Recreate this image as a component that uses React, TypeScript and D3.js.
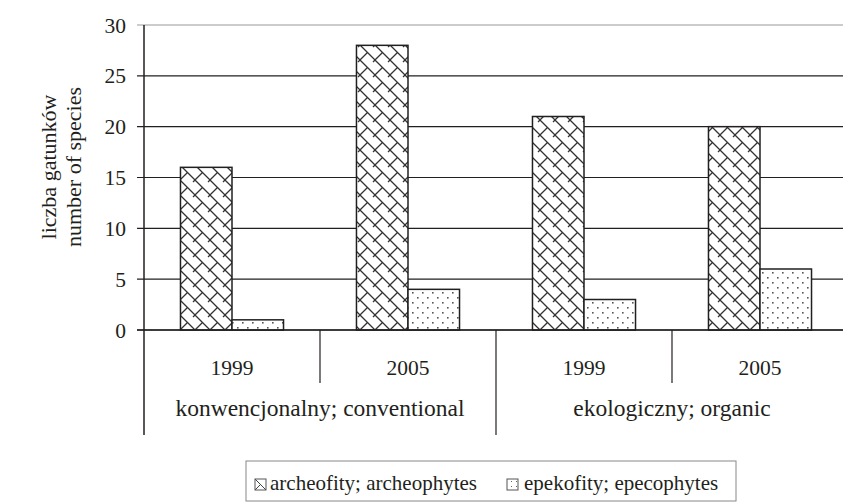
import React from "react";
import * as d3 from "d3";

const years = ["1999", "2005", "1999", "2005"];
const systems = ["konwencjonalny; conventional", "ekologiczny; organic"];
const seriesNames = ["archeofity; archeophytes", "epekofity; epecophytes"];
const archeofity = [16, 28, 21, 20];
const epekofity = [1, 4, 3, 6];
const yTicks = [0, 5, 10, 15, 20, 25, 30];

const W = 843;
const H = 502;
const FONT = "Liberation Serif, Times New Roman, serif";
const INK = "#231f20";

export default function App() {
  const left = 144;
  const groupW = 176;
  const x0 = d3
    .scaleBand<number>()
    .domain(d3.range(years.length))
    .range([left, left + groupW * years.length])
    .padding(0);
  const x1 = d3
    .scaleBand<number>()
    .domain([0, 1])
    .range([0, x0.bandwidth()])
    .paddingInner(0)
    .paddingOuter(0.708);
  const y = d3.scaleLinear().domain([0, 30]).range([330, 25]);
  const series = [archeofity, epekofity];
  const fills = ["url(#brick)", "url(#dots)"];
  const zeroY = y(0);

  return (
    <svg
      width={W}
      height={H}
      style={{ position: "absolute", left: 0, top: 0, background: "#fff" }}
    >
      <defs>
        <pattern id="brick" width="15" height="15" patternUnits="userSpaceOnUse">
          <rect width="15" height="15" fill="#fff" />
          <path
            d="M-2,-2 L17,17 M7.5,7.5 L-2,17 M17,-2 L13,2"
            stroke="#333"
            strokeWidth="1.3"
            fill="none"
          />
        </pattern>
        <pattern id="dots" width="10" height="10" patternUnits="userSpaceOnUse">
          <rect width="10" height="10" fill="#fff" />
          <rect x="2" y="2" width="1.6" height="1.6" fill="#555" />
          <rect x="7" y="7" width="1.6" height="1.6" fill="#555" />
        </pattern>
        <pattern id="brickL" width="11" height="11" patternUnits="userSpaceOnUse" x="255" y="479">
          <rect width="11" height="11" fill="#fff" />
          <path d="M0,0 L11,11 M5.5,5.5 L0,11" stroke="#444" strokeWidth="1" fill="none" />
        </pattern>
        <pattern id="dotsL" width="5" height="5" patternUnits="userSpaceOnUse">
          <rect width="5" height="5" fill="#fff" />
          <rect x="1" y="1" width="1" height="1" fill="#666" />
        </pattern>
      </defs>

      {yTicks.map((t) => (
        <line
          key={"g" + t}
          x1={left - 7}
          x2={W}
          y1={y(t)}
          y2={y(t)}
          stroke={t === 30 ? "#999" : INK}
          strokeWidth={1.2}
        />
      ))}

      {series.map((vals, si) =>
        vals.map((v, gi) => (
          <rect
            key={`b${si}-${gi}`}
            x={(x0(gi) as number) + (x1(si) as number)}
            y={y(v)}
            width={x1.bandwidth()}
            height={zeroY - y(v)}
            fill={fills[si]}
            stroke={INK}
            strokeWidth={1.5}
          />
        ))
      )}

      <line x1={left} x2={left} y1={y(30)} y2={435} stroke={INK} strokeWidth={1.5} />
      <line x1={left - 7} x2={W} y1={zeroY} y2={zeroY} stroke={INK} strokeWidth={1.5} />
      {yTicks.map((t) => (
        <text
          key={"t" + t}
          x={126}
          y={y(t)}
          dy="0.35em"
          textAnchor="end"
          fontSize={21.5}
          fontFamily={FONT}
          fill={INK}
        >
          {t}
        </text>
      ))}

      {years.map((_, i) => {
        if (i === 0) return null;
        const xx = x0(i) as number;
        const long = i === 2;
        return (
          <line
            key={"d" + i}
            x1={xx}
            x2={xx}
            y1={zeroY}
            y2={long ? 435 : 383}
            stroke={INK}
            strokeWidth={1.2}
          />
        );
      })}

      {years.map((yr, i) => (
        <text
          key={"y" + i}
          x={(x0(i) as number) + x0.bandwidth() / 2}
          y={375}
          textAnchor="middle"
          fontSize={21.5}
          fontFamily={FONT}
          fill={INK}
        >
          {yr}
        </text>
      ))}

      {systems.map((s, i) => (
        <text
          key={"s" + i}
          x={(x0(i * 2) as number) + x0.bandwidth()}
          y={416}
          textAnchor="middle"
          fontSize={23.5}
          fontFamily={FONT}
          fill={INK}
        >
          {s}
        </text>
      ))}

      <g transform="translate(56,167) rotate(-90)">
        <text textAnchor="middle" fontSize={22} fontFamily={FONT} fill={INK}>
          liczba gatunków
        </text>
        <text y={25} textAnchor="middle" fontSize={22} fontFamily={FONT} fill={INK}>
          number of species
        </text>
      </g>

      <rect x={246} y={461} width={490} height={40} fill="none" stroke="#888" strokeWidth={1} />
      <rect x={255} y={479} width={11} height={11} fill="url(#brickL)" stroke="#555" strokeWidth={1} />
      <text x={270} y={490} fontSize={21} fontFamily={FONT} fill={INK}>
        {seriesNames[0]}
      </text>
      <rect x={507} y={479} width={11} height={11} fill="url(#dotsL)" stroke="#555" strokeWidth={1} />
      <text x={524} y={490} fontSize={21} fontFamily={FONT} fill={INK}>
        {seriesNames[1]}
      </text>
    </svg>
  );
}
